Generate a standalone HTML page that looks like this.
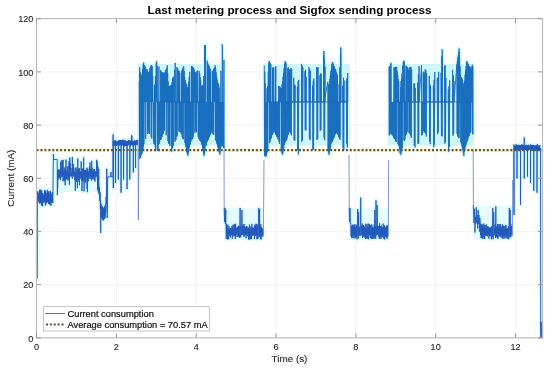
<!DOCTYPE html>
<html><head><meta charset="utf-8"><style>
html,body{margin:0;padding:0;background:#fff;}
body{width:550px;height:368px;overflow:hidden;}
svg{display:block;font-family:"Liberation Sans",sans-serif;will-change:transform;}
</style></head><body>
<svg width="550" height="368" viewBox="0 0 550 368">
<rect x="0" y="0" width="550" height="368" fill="#fff"/>
<g stroke="#f3f3f3" stroke-width="1.2"><line x1="116.34" y1="18.6" x2="116.34" y2="337.9"/><line x1="196.18" y1="18.6" x2="196.18" y2="337.9"/><line x1="276.02" y1="18.6" x2="276.02" y2="337.9"/><line x1="355.86" y1="18.6" x2="355.86" y2="337.9"/><line x1="435.7" y1="18.6" x2="435.7" y2="337.9"/><line x1="515.54" y1="18.6" x2="515.54" y2="337.9"/><line x1="36.5" y1="284.7" x2="542.5" y2="284.7"/><line x1="36.5" y1="231.5" x2="542.5" y2="231.5"/><line x1="36.5" y1="178.3" x2="542.5" y2="178.3"/><line x1="36.5" y1="125.1" x2="542.5" y2="125.1"/><line x1="36.5" y1="71.9" x2="542.5" y2="71.9"/></g>
<line x1="36.5" y1="150.1" x2="542.5" y2="150.1" stroke="#fdfbe4" stroke-width="4.5"/>
<line x1="36.5" y1="150.1" x2="542.5" y2="150.1" stroke="#f9f5d6" stroke-width="2.2"/>
<g fill="#cdf6fc">
<rect x="137.5" y="64" width="87.5" height="81.5"/>
<rect x="263" y="64" width="87" height="81.5"/>
<rect x="388" y="64" width="86" height="81.5"/>
</g>
<g fill="#e6fbfe">
<rect x="224.5" y="208" width="39" height="32"/>
<rect x="349" y="208" width="39.5" height="32"/>
<rect x="473.5" y="206" width="39" height="34"/>
<rect x="513" y="143" width="27.5" height="8"/>
<rect x="37" y="187" width="16" height="19"/>
<rect x="56" y="161" width="43" height="31"/>
</g>
<g fill="none" stroke="#d2f7fd" stroke-width="3.5" stroke-linejoin="round"><path d="M139.2 81.17L139.45 158.94L139.7 67.29L139.95 157.41L140.2 71.97L140.45 158.03L140.7 73.59L140.95 155.83L141.2 78.47L141.45 155.04L141.7 75.74L141.95 153.83L142.2 73.62L142.45 151.21L142.7 68.76L142.95 150.44L143.2 63.88L143.45 146.33L143.7 62.7L143.95 144.32L144.2 102L144.45 65.09L144.7 102L144.95 66.36L145.2 102L145.45 66.95L145.7 139.04L145.95 102L146.2 68.99L146.45 102L146.7 69.06L146.95 102L147.2 69.76L147.45 134.01L147.7 72.13L147.95 131L148.2 72.66L148.45 131.07L148.7 72.02L148.95 133.38L149.2 71.26L149.45 134.02L149.7 102L149.95 67.92L150.2 102L150.45 66.62L150.7 102L150.95 65.72L151.2 137.07L151.45 65.23L151.7 138.62L151.95 102L152.2 65.99L152.45 102L152.7 75.91L152.95 102L153.2 102L153.45 141.5L153.7 102L153.95 144.1L154.2 102L154.45 85.64L154.7 144.33L154.95 84.42L155.2 147L155.45 75.93L155.7 150.46L155.95 102L156.2 63.35L156.45 102L156.7 61.27L156.95 102L157.2 65.77L157.45 150.89L157.7 102L157.95 149.63L158.2 102L158.45 144.89L158.7 102L158.95 66.62L159.2 144.01L159.45 102L159.7 141.68L159.95 102L160.2 139.97L160.45 102L160.7 69.87L160.95 139.97L161.2 71.59L161.45 138.37L161.7 73.38L161.95 136.51L162.2 72.25L162.45 136.34L162.7 72.27L162.95 133.3L163.2 72.72L163.45 133.54L163.7 73.47L163.95 131.03L164.2 73.58L164.45 130.3L164.7 102L164.95 72.05L165.2 102L165.45 70.24L165.7 102L165.95 69.61L166.2 135.33L166.45 102L166.7 68.09L166.95 102L167.2 65.25L167.45 102L167.7 73.19L167.95 141.14L168.2 81.45L168.45 142.8L168.7 86.41L168.95 144.02L169.2 85.72L169.45 144.54L169.7 87.11L169.95 146.11L170.2 102L170.45 85.68L170.7 102L170.95 85.48L171.2 102L171.45 85.03L171.7 151.59L171.95 82.29L172.2 148.25L172.45 78.79L172.7 147.23L172.95 77.12L173.2 145.97L173.45 102L173.7 78.01L173.95 102L174.2 75.78L174.45 102L174.7 70.06L174.95 141.92L175.2 62.94L175.45 140.32L175.7 102L175.95 140.03L176.2 102L176.45 136.94L176.7 102L176.95 67.15L177.2 136.27L177.45 102L177.7 68.16L177.95 102L178.2 70.58L178.45 102L178.7 71.32L178.95 131.51L179.2 70.72L179.45 131.78L179.7 73.22L179.95 130.44L180.2 102L180.45 132L180.7 102L180.95 133.36L181.2 102L181.45 72.44L181.7 134.31L181.95 70.54L182.2 136.86L182.45 68.82L182.7 138.44L182.95 67.68L183.2 139.35L183.45 102L183.7 66.24L183.95 102L184.2 71.23L184.45 102L184.7 76.91L184.95 142.76L185.2 80.13L185.45 144.78L185.7 82.27L185.95 147.06L186.2 83.81L186.45 149.34L186.7 84.74L186.95 152.53L187.2 86.96L187.45 154.95L187.7 87.92L187.95 155.49L188.2 87.44L188.45 152.69L188.7 81.64L188.95 148.5L189.2 76.75L189.45 146.82L189.7 71.84L189.95 144.73L190.2 102L190.45 144.2L190.7 102L190.95 141.71L191.2 102L191.45 65.9L191.7 139.52L191.95 66.61L192.2 139.42L192.45 66.89L192.7 138.81L192.95 66.79L193.2 137L193.45 102L193.7 68.1L193.95 102L194.2 69.54L194.45 102L194.7 72.04L194.95 133.19L195.2 72.14L195.45 130.58L195.7 72.82L195.95 131.01L196.2 73.21L196.45 132.38L196.7 102L196.95 71.11L197.2 102L197.45 70.22L197.7 102L197.95 102L198.2 137.06L198.45 102L198.7 138.74L198.95 102L199.2 70.99L199.45 139.5L199.7 73.54L199.95 140.62L200.2 77.1L200.45 140.88L200.7 80.3L200.95 141.96L201.2 85.89L201.45 144.57L201.7 85.91L201.95 143.86L202.2 84.86L202.45 147.11L202.7 85.61L202.95 149.25L203.2 85.21L203.45 152.69L203.7 76.06L203.95 155.82L204.2 102L204.45 154.27L204.7 102L204.95 149.36L205.2 102L204.5 102L204.5 45L204.8 47L204.9 102L205.45 45.24L205.7 145.88L205.95 102L206.2 145.45L206.45 102L206.7 142.71L206.95 102L207.2 60.58L207.45 141.54L207.7 62.98L207.95 139.82L208.2 64.29L208.45 139.65L208.7 65.32L208.95 137.88L209.2 65.91L209.45 136.86L209.7 67.8L209.95 135.43L210.2 68.89L210.45 134.34L210.7 71.08L210.95 133.33L211.2 102L211.45 130.43L211.7 102L211.95 132.02L212.2 102L212.45 70.72L212.7 133.46L212.95 71.33L213.2 134.32L213.45 68.97L213.7 134.74L213.95 102L214.2 68.12L214.45 102L214.7 67.16L214.95 102L215.2 65.34L215.45 139.86L215.7 68.57L215.95 140.62L216.2 72.29L216.45 142.4L216.7 77.1L216.95 143.87L217.2 79.75L217.45 145.31L217.7 82.45L217.95 147.39L218.2 83.55L218.45 149.63L218.7 84.91L218.95 151.69L219.2 87.56L219.45 153.46L219.7 102L219.95 154.52L220.2 102L220.45 149.18L220.7 102L220.95 70.85L221.2 146.72L221.45 102L221.7 145.75L221.95 102L222.2 146.13L222.45 102L222.2 102L222.2 44.5L222.5 46.5L222.6 102L222.7 102L222.95 146.18L223.2 102L223.45 147.91L223.7 102L223.95 60.03L224.2 148.91"/><path d="M264.3 65.39L264.55 155.43L264.8 71.49L265.05 156.64L265.3 83.42L265.55 154.55L265.8 102L266.05 156.3L266.3 102L266.55 155.45L266.8 102L267.05 88.23L267.3 152.39L267.55 86.3L267.8 150.3L268.05 102L268.3 71.58L268.55 102L268.8 62.64L269.05 102L269.3 61.03L269.55 143.14L269.8 63.01L270.05 142.1L270.3 63.12L270.55 139.29L270.8 64.06L271.05 138.55L271.3 102L271.55 137.95L271.8 102L272.05 135.18L272.3 102L272.55 67.52L272.8 134.42L273.05 68.75L273.3 132.32L273.55 67.34L273.8 131.38L274.05 102L274.3 130.29L274.55 102L274.8 132.5L275.05 102L275.3 67.38L275.55 134.49L275.8 66.22L276.05 134.66L276.3 102L276.55 136.51L276.8 102L277.05 137.09L277.3 102L277.55 102L277.8 138.61L278.05 102L278.3 140.1L278.55 102L278.8 85.89L279.05 142.03L279.3 86.17L279.55 143.92L279.8 102L280.05 86.81L280.3 102L280.55 87.92L280.8 102L281.05 88.08L281.3 149.06L281.55 88.08L281.8 152.38L282.05 83.85L282.3 154.47L282.55 80.99L282.8 153.72L283.05 76.62L283.3 149.36L283.55 72.81L283.8 148.09L284.05 68.22L284.3 144.86L284.55 63.8L284.8 143.15L285.05 61.27L285.3 142.09L285.55 62.13L285.8 141L286.05 63.3L286.3 140.89L286.55 102L286.8 139.36L287.05 102L287.3 137.62L287.55 102L287.8 67.89L288.05 135.14L288.3 67.26L288.55 133.93L288.8 69.39L289.05 132.03L289.3 70.2L289.55 130.63L289.8 69.22L290.05 132.53L290.3 102L290.3 70.34L290.65 133.44L291 67.97L291.35 135.41L291.7 69.16L291.7 102L293.76 102L293.76 77.77L294.11 140.46L294.46 84.49L294.81 140.48L295.16 85.26L295.16 102L297.36 102L297.36 86.63L297.71 150.19L298.06 81.4L298.41 154.31L298.76 79.84L298.76 102L301.47 102L301.47 64.25L301.82 141.74L302.17 65.53L302.52 140.2L302.87 67.5L302.87 102L304.89 102L304.89 71.25L305.24 130.09L305.59 69.69L305.94 130.42L306.29 76.79L306.29 102L309.03 102L309.03 67.12L309.38 138.63L309.73 68.93L310.08 140.17L310.43 71.06L310.43 102L312.51 102L312.51 85.78L312.86 149.89L313.21 81.14L313.56 149.38L313.91 78.44L313.91 102L316.64 102L316.64 67.12L316.99 140.02L317.34 67.86L317.69 139.07L318.04 67.33L318.04 102L319.89 102L319.89 75.4L320.24 130.95L320.59 73.84L320.94 129.67L321.29 73.4L321.29 102L323.65 102L323.65 55.49L324 137.64L324.35 59.14L324.7 140.26L325.05 66.59L325.05 102L323.8 102L323.8 51L324.1 53L324.2 102L327.84 81.75L328.09 150.22L328.34 84.37L328.59 153.04L328.84 86.98L329.09 154.82L329.34 83.64L329.59 151.11L329.84 79.01L330.09 149.64L330.34 75.46L330.59 147.42L330.84 71.3L331.09 143.74L331.34 69.35L331.59 142.87L331.84 64.06L332.09 141.98L332.34 62.06L332.59 141.98L332.84 63.7L333.09 139.85L333.34 63.62L333.59 138.44L333.84 66.17L334.09 137.58L334.34 66.22L334.59 136.78L334.84 68.27L335.09 134.63L335.34 69.39L335.59 133.92L335.84 69.68L336.09 132.79L336.34 72.13L336.59 133L336.84 73.5L337.09 133.73L337.34 75.36L337.59 134.29L337.84 102L338.09 134.7L338.34 102L338.59 137.14L338.84 102L339.09 102L339.09 84.38L339.44 138.45L339.79 67.35L340.14 139.75L340.49 54.17L340.49 102L340.7 102L340.7 47.5L341 49.5L341.1 102L342.71 102L342.71 85.84L343.06 148.05L343.41 77.69L343.76 150.1L344.11 80.44L344.11 102L346.3 102L346.3 80.81L346.65 143.57L347 77.97L347.35 147.39L347.7 73.02L347.7 102"/><path d="M389 67.05L389.25 135.46L389.5 66.14L389.75 134.89L390 65.92L390.25 134.19L390.5 64.25L390.75 132.05L391 62.87L391.25 134.12L391.5 102L391.75 133.93L392 102L392.25 135.18L392.5 102L392.75 102L393 136.28L393.25 102L393.5 137.9L393.75 102L394 67.21L394.25 138.87L394.5 67.99L394.75 138.42L395 67.39L395.25 139.5L395.5 67L395.75 141.07L396 66.65L396.25 142.05L396.5 102L396.75 67.27L397 102L397.25 71.63L397.5 102L397.75 75.19L398 144.14L398.25 79.08L398.5 145.11L398.75 81.65L399 146.39L399.25 102L399.5 148.61L399.75 102L400 153.26L400.25 102L400.5 87.16L400.75 154.85L401 81.16L401.25 152.73L401.5 78.69L401.75 150.05L402 73.62L402.25 148.08L402.5 102L402.75 65.73L403 102L403.25 62.69L403.5 102L403.75 60.79L404 140.6L404.25 61.59L404.5 141.1L404.75 102L405 139.38L405.25 102L405.5 136.12L405.75 102L406 65.61L406.25 134.57L406.5 66.4L406.75 133.47L407 66.62L407.25 131.57L407.5 102L407.75 67.58L408 102L408.25 69.82L408.5 102L408.75 70.22L409 132.9L409.25 68.08L409.5 132.54L409.75 67.65L410 134.33L410.25 102L410.25 67.17L410.6 135.6L410.95 66.81L411.3 137.97L411.65 69.53L411.65 102L413.94 102L413.94 83.58L414.29 146.03L414.64 83.47L414.99 147.31L415.34 87.94L415.34 102L417.68 102L417.68 82.6L418.03 143.86L418.38 74.09L418.73 143.39L419.08 66.2L419.08 102L421.47 65.32L421.72 135.58L421.97 102L422.22 135.04L422.47 102L422.72 133.06L422.97 102L423.22 71.66L423.47 131.07L423.72 73.27L423.97 130.29L424.22 74.59L424.47 132.45L424.72 72.43L424.97 132.2L425.22 102L425.22 69.28L425.57 133.54L425.92 70.43L426.27 136.54L426.62 73.34L426.62 102L429.22 102L429.22 75.81L429.57 141.83L429.92 84.22L430.27 144.15L430.62 85.98L430.62 102L433.37 102L433.37 85.51L433.72 147.19L434.07 79.81L434.42 144.82L434.77 71.98L434.77 102L437.28 102L437.28 78.27L437.63 134.17L437.98 77.28L438.33 132.4L438.68 71.8L438.68 102L441.1 102L441.1 72.81L441.45 135.77L441.8 56.33L442.15 136.39L442.5 58.16L442.5 102L442.1 102L442.1 49.5L442.4 51.5L442.5 102L444.5 102L444.5 66.29L444.85 143.64L445.2 65.04L445.55 142.14L445.9 77.84L445.9 102L448.29 102L448.29 89.44L448.64 151.53L448.99 86.25L449.34 147.01L449.69 80.29L449.69 102L452.62 102L452.62 69.98L452.97 135.79L453.32 75.42L453.67 133.89L454.02 81.09L454.02 102L456.84 64.33L457.09 133.9L457.34 61.27L457.59 136.07L457.84 57.26L458.09 136.81L458.34 54.75L458.59 138.23L458.84 52.01L459.09 138.1L459.34 102L459.59 58.47L459.84 102L460.09 66.28L460.34 102L459 102L459 48.5L459.3 50.5L459.4 102L460.59 74.99L460.84 142.02L461.09 78.17L461.34 143.48L461.59 77.06L461.84 145.69L462.09 78.65L462.34 147.85L462.59 79.74L462.84 150.3L463.09 82.77L463.34 153.11L463.59 85.44L463.84 155.92L464.09 83.79L464.34 151.7L464.59 80.73L464.84 149.28L465.09 74.47L465.34 146.7L465.59 70.46L465.84 145.38L466.09 66.09L466.34 144.38L466.59 61.53L466.84 142.19L467.09 61.53L467.34 141.1L467.59 63.69L467.84 139.89L468.09 63.67L468.34 137.39L468.59 64.16L468.84 136.03L469.09 66.02L469.34 135.88L469.59 66.61L469.84 133.11L470.09 66.73L470.34 133.14L470.59 68.65L470.84 131.76L471.09 102L471.34 69.18L471.59 102L471.84 66.67L472.09 102L472.34 64.7L472.59 134.31L472.84 66.52L473.09 134.42"/><path d="M37.3 278.5L37.4 230L37.5 196"/><path d="M37.1 196L37.8 191.44L38.08 201.41L38.36 193.41L38.64 200.93L38.92 192.72L39.2 202.69L39.48 189.85L39.76 203.54L40.04 189.72L40.32 203.1L40.6 189.92L40.88 201.04L41.16 192.05L41.44 205.46L41.72 190.24L42 201.84L42.28 193.26L42.56 206.19L42.84 192.96L43.12 202.88L43.4 195.36L43.68 200.78L43.96 194.65L44.24 202.24L44.52 190.37L44.8 201.21L45.08 191.35L45.36 205.4L45.64 190.58L45.92 203.99L46.2 193.33L46.48 202.73L46.76 192.79L47.04 200.88L47.32 189.86L47.6 201.74L47.88 193.58L48.16 203.07L48.44 191.38L48.72 204.01L49 192.22L49.28 202.3L49.56 194.27L49.84 204.69L50.12 190.96L50.4 203.95L50.68 192.65L50.96 205.75L51.24 193.88L51.52 202.23L51.8 195.38L52.08 201.21L52.36 192.01L52.8 203L53.4 154L53.7 159.5L57.2 159.5L57.4 195L57.5 172L57.6 170.54L57.65 187.89L57.7 170.31L58.02 179.84L58.44 169.44L58.86 177.54L59.28 169.57L59.7 178.47L60.12 171.67L60.54 179.82L60.59 161.76L60.64 175.18L60.96 171.96L61.38 177.35L61.8 170.01L61.85 159.96L61.9 171.34L62.22 176.26L62.27 162.26L62.32 171.03L62.64 167.49L63.06 181.16L63.11 159.87L63.16 174.4L63.48 171.3L63.9 181.12L64.32 168.49L64.74 181.25L65.16 166.91L65.21 185.32L65.26 171.87L65.58 178.65L66 167.58L66.05 159.64L66.1 172.95L66.42 179.18L66.84 170.14L67.26 179.51L67.68 166.32L68.1 180.57L68.52 170.79L68.94 178.09L68.99 161.26L69.04 170.5L69.36 166.4L69.41 184.62L69.46 172.72L69.78 175.84L69.83 157.63L69.88 170.81L70.2 168.18L70.25 163.06L70.3 174.91L70.62 176.47L71.04 168.08L71.46 176.3L71.88 171.96L72.3 178.64L72.35 157.27L72.4 172.74L72.72 167.59L73.14 176.55L73.19 163.63L73.24 174.23L73.56 166.88L73.98 175.68L74.4 171.87L74.82 180.03L75.24 168.2L75.29 190.72L75.34 174.26L75.66 180.56L76.08 167.34L76.5 181.9L76.92 170.84L77.34 180.31L77.39 188.18L77.44 172.84L77.76 166.17L77.81 158.6L77.86 172.07L78.18 180L78.6 168.68L79.02 181.92L79.44 168.19L79.49 185.27L79.54 171.57L79.86 176.83L80.28 171.4L80.7 178.62L81.12 170.8L81.17 161.45L81.22 177.28L81.54 180.58L81.96 168.87L82.01 190.89L82.06 172.66L82.38 180.71L82.8 168.38L83.22 181.65L83.64 167.02L83.69 157.63L83.74 177.24L84.06 180.74L84.11 191.27L84.16 177.84L84.48 169.94L84.9 179.07L84.95 183.14L85 177.77L85.32 169.9L85.74 181.57L86.16 171.23L86.58 176.87L87 167.76L87.05 188.86L87.1 172.07L87.42 178.22L87.47 192.1L87.52 172.83L87.84 168.75L88.26 181.38L88.68 171.51L89.1 178.96L89.52 166.11L89.94 176.69L89.99 162.49L90.04 171.38L90.36 168.84L90.78 179.12L91.2 169.11L91.62 180.6L91.67 160.7L91.72 171.99L92.04 167.66L92.46 178.8L92.88 170.56L93.3 178.38L93.72 169.03L94.14 180L94.56 169.2L94.98 181.62L95.4 171.26L95.82 177.19L96.24 171.66L96.66 176.39L96.71 159.82L96.76 170.58L97.08 167.44L97.13 161.52L97.18 176.27L97.5 181.33L97.55 190.16L97.6 175.28L97.92 166.86L98.34 181.79L98.39 192.53L98.44 173.19L98.76 168.92L98.9 183.7L99.2 194.38L99.5 187.29L99.8 200.92L100.1 192.42L100.4 209.61L100.7 200.76L100.7 233L100.75 212L101 215.83L101.3 204.36L101.6 217.24L101.9 206.22L102.2 219.75L102.5 206.49L102.8 218.83L103.1 207.49L103.4 220.41L103.7 208.61L104 217.63L104.3 208.27L104.6 219.09L104.9 205.85L105.2 217.5L105.5 203.49L105.8 212.65L106.1 196.93L106.4 203.73L106.8 168.8L107.2 218L107.7 176.8L110.5 176.8L111 172L111.3 177L113 176.8L113.1 134.5L113.2 146L113.3 141.81L113.3 188L113.35 145L113.55 146.14L113.55 188L113.6 145L113.8 140.37L114.05 144.8L114.3 141.82L114.55 145.64L114.8 141.34L115.05 144.68L115.3 139.93L115.55 145.88L115.55 183L115.6 145L115.8 140.74L116.05 144.64L116.3 141.86L116.55 145.77L116.8 141.56L117.05 144.67L117.3 141.68L117.55 144.63L117.8 141.7L118.05 145.41L118.3 140.55L118.3 179.5L118.35 145L118.55 145.61L118.8 141.84L119.05 145.04L119.3 140.08L119.55 145.55L119.8 140.32L120.05 144.72L120.3 140.16L120.55 144.6L120.8 140.24L121.05 145.12L121.05 192.7L121.1 145L121.3 140.47L121.55 146.02L121.8 140.44L122.05 145.5L122.3 140.19L122.55 145.19L122.8 139.84L123.05 145L123.3 139.83L123.55 145.97L123.55 179.5L123.6 145L123.8 141.01L124.05 144.88L124.3 140.84L124.55 146.37L124.8 140.03L125.05 146.14L125.3 140.75L125.55 145.49L125.8 141.64L126.05 145.29L126.3 140.91L126.55 145.88L126.8 141.96L127.05 145.19L127.05 189L127.1 145L127.3 141.63L127.55 145.91L127.8 141.2L128.05 145.31L128.3 140.56L128.55 144.61L128.8 140.09L129.05 144.64L129.3 141.43L129.55 145.01L129.8 140.16L129.8 179.5L129.85 145L130.05 144.67L130.3 141.65L130.55 146.24L130.8 141.28L131.05 145.06L131.3 140.33L131.55 145.09L131.55 135.5L131.6 142L131.8 140.81L131.8 135.5L131.85 142L132.05 144.82L132.3 140.78L132.55 145.03L132.8 141.92L133.05 146.45L133.3 141L133.3 172.4L133.35 145L133.55 144.99L133.8 141.92L134.05 145.12L134.3 140.58L134.55 144.5L134.8 140.64L135.05 145.45L135.3 140.91L135.55 144.9L135.55 168L135.6 145L135.8 140.91L136.05 144.51L136.3 140.38L136.55 144.68L136.8 140.68L137.05 144.58L137.3 139.85L137.55 145.11L137.8 140.31L138 141"/><path d="M224.2 208L224.6 222L225 207.9L225.4 224L225.8 210L226 226.37L226.3 239.09L226.6 224.1L226.9 236.7L227.2 227.93L227.5 239.32L227.8 224.59L228.1 234.7L228.4 228.69L228.7 239.37L229 226.16L229.3 234.29L229.6 228.59L229.9 236.13L230.2 228.47L230.5 237.41L230.8 228.04L231.1 234.88L231.4 227.82L231.7 235.22L232 225.72L232.3 238.65L232.6 228.06L232.9 235.01L233.2 224.7L233.5 236.2L233.8 226.35L234.1 236.11L234.4 224.18L234.7 235.36L235 227.49L235.3 238.94L235.6 223.73L235.9 237.09L236.2 227.67L236.5 234.21L236.8 228.11L237.1 234.65L237.4 226.8L237.7 237.03L238 226.95L238.3 235.68L238.6 225.81L238.9 237.2L239.2 225.84L239.5 237.62L239.8 225.96L240.1 208L240.4 223.63L240.7 237.4L241 226.19L241.3 235.29L241.6 227.7L241.9 210L242.2 226.02L242.5 234.99L242.8 226.1L243.1 234.59L243.4 224.21L243.7 236.37L244 224L244.3 236.43L244.6 226.31L244.9 234.22L245.2 227L245.5 234.45L245.8 227.53L246.1 238.28L246.4 226.31L246.7 234.3L247 226.27L247.3 236.08L247.6 228.73L247.9 234.75L248.2 228.21L248.5 239.48L248.8 227.53L249.1 238.48L249.4 224.57L249.7 239.4L250 226.21L250.3 239.26L250.6 228.54L250.9 234.91L251.2 227.84L251.5 239.12L251.8 223.86L252.1 235.93L252.4 227.66L252.7 234.87L253 228.43L253.3 235.51L253.6 227.99L253.9 234.79L254.2 226.26L254.5 239.06L254.8 224.65L255.1 235.45L255.4 226.28L255.7 235.75L256 223.7L256.3 235L256.6 224.39L256.9 239.15L257.2 227.24L257.5 238.92L257.8 224.43L258.1 238.32L258.4 224.13L258.7 208L259 227L259.3 235.98L259.6 209L259.9 237.05L260.2 226.69L260.5 238.85L260.8 224.08L261.1 239.46L261.4 226.96L261.7 236.17L262 227.89L262.3 235.46L262.6 228.95L262.9 237.18"/><path d="M349.2 208L349.6 222L350 208L350.4 224L350.8 223.57L351.1 236.3L351.4 225.81L351.7 237.84L352 225.44L352.3 235.46L352.6 224.73L352.9 238.08L353.2 228.67L353.5 236.9L353.8 224.7L354.1 238.41L354.4 225.66L354.7 235.17L355 224.21L355.3 238.27L355.6 227.95L355.9 237.49L356.2 226.08L356.5 237.09L356.8 224.74L357.1 239.3L357.4 225.44L357.7 209.3L358 228L358.3 238.49L358.6 212L358.9 235.62L359.2 226.52L359.5 234.69L359.8 228.09L360.1 235.95L360.4 228.18L360.7 197.7L361 225.57L361.3 235.39L361.6 225.84L361.9 235.02L362.2 223.51L362.5 237.97L362.8 225.05L363.1 235.35L363.4 225.16L363.7 236.64L364 225.86L364.3 237.51L364.6 227.13L364.9 235.99L365.2 228.61L365.5 238.7L365.8 223.81L366.1 238.55L366.4 228.48L366.7 238.31L367 224.27L367.3 238.57L367.6 226.98L367.9 234.08L368.2 223.56L368.5 239.23L368.8 227.11L369.1 235.38L369.4 224.06L369.7 234.79L370 224.79L370.3 238.27L370.6 225.41L370.9 234.84L371.2 228.47L371.5 238.35L371.8 224.42L372.1 238.9L372.4 226.85L372.7 238.3L373 227.18L373.3 238.92L373.6 227.83L373.9 238.61L374.2 224.59L374.5 237.81L374.8 210L375.1 238.08L375.4 225.91L375.7 238.85L376 200.4L376.3 235.45L376.6 224.79L376.9 234.77L377.2 205L377.5 234.32L377.8 226.07L378.1 234.79L378.4 226.2L378.7 236.74L379 226.47L379.3 238.75L379.6 223.54L379.9 238.62L380.2 226.07L380.5 237.09L380.8 227.16L381.1 238.62L381.4 225.56L381.7 236.3L382 228.78L382.3 234.41L382.6 227L382.9 237.5L383.2 223.66L383.5 237.35L383.8 227.25L384.1 239.12L384.4 225.32L384.7 239.4L385 226.31L385.3 236.67L385.6 228.44L385.9 234.19L386.2 227.45L386.5 237.44L386.8 225.36L387.1 238.74L387.4 225.51L387.7 236.61"/><path d="M473.4 205L473.6 214.57L474.05 223.07L474.5 208.7L474.95 232.56L475.4 216.67L475.85 223.95L476.3 207.19L476.75 222.31L477.2 215.13L477.65 228.43L478.1 210.11L478.55 224.09L479 215.19L479.45 231.62L479.9 218.17L480.2 226.71L480.5 235.11L480.8 223.86L481.1 238.03L481.4 225.74L481.7 237.97L482 223.8L482.3 238.46L482.6 225.34L482.9 238.63L483.2 228.25L483.5 236.71L483.8 223.58L484.1 239.01L484.4 226.12L484.7 238.8L485 224.96L485.3 235.02L485.6 228.07L485.9 236.02L486.2 224.4L486.5 236.04L486.8 226.77L487.1 234.03L487.4 226.36L487.7 236.45L488 226.34L488.3 234.66L488.6 227.43L488.9 238.49L489.2 228.26L489.5 235.77L489.8 227.41L490.1 236.1L490.4 227.63L490.7 234.34L491 228.3L491.3 239.25L491.6 226.22L491.9 236.82L492.2 226.42L492.5 236.96L492.8 208L493.1 239.32L493.4 224.73L493.7 212L494 224.06L494.3 235.38L494.6 227.99L494.9 234.17L495.2 224.03L495.5 237.84L495.8 206.5L496.1 234.1L496.4 226.8L496.7 237.17L497 226.38L497.3 237.86L497.6 224.07L497.9 238.78L498.2 227.44L498.5 234.25L498.8 224.18L499.1 236.71L499.4 226.25L499.7 235.54L500 224.17L500.3 236.23L500.6 224.25L500.9 237.25L501.2 228.24L501.5 234.81L501.8 226.65L502.1 238.11L502.4 224.4L502.7 238.54L503 228.66L503.3 236.14L503.6 225.81L503.9 238.62L504.2 226.39L504.5 236.18L504.8 228.68L505.1 238.27L505.4 225.36L505.7 235.32L506 225.34L506.3 236.4L506.6 228.9L506.9 238.42L507.2 228.52L507.5 238.48L507.8 228.16L508.1 234.29L508.4 226.35L508.7 239.27L509 228.64L509.3 208L509.6 225.82L509.9 237.48L510.2 210L510.5 236.92L510.8 223.88L511.1 236.38L511.4 226.28L511.7 234.11"/><path d="M540.5 148L540.7 322"/><path d="M540.4 321L540.8 337.6L541.2 322L541.6 337.6L542 323L542.4 337.6"/><path d="M513.8 147L514 144.61L514 215L514.05 148L514.25 150.92L514.5 146.01L514.75 150.84L515 145.69L515.25 150.52L515.5 146.25L515.75 150.71L516 144.38L516.25 150.1L516.5 144.88L516.75 150.2L517 144.9L517 178.5L517.05 148L517.25 149.86L517.5 146.33L517.75 150.05L518 144.85L518.25 149.8L518.5 145.25L518.75 150.88L519 144.93L519.25 149.26L519.5 145.72L519.75 148.8L520 145.61L520.25 150.89L520.5 145.43L520.5 205L520.55 148L520.75 149.17L521 145.33L521.25 149.83L521.5 144.63L521.75 148.81L522 144.59L522.25 149.23L522.5 145.19L522.75 149.22L523 144.84L523.25 148.72L523.5 145.5L523.75 150.6L524 145.64L524.25 149.93L524.25 178.5L524.3 148L524.25 137.6L524.3 145L524.5 145.73L524.75 149L525 145.86L525.25 149.65L525.5 145.51L525.75 150.03L526 145.33L526.25 149.28L526.5 144.83L526.75 149.05L527 145.43L527.25 149.46L527.5 145.59L527.5 176.6L527.55 148L527.75 148.53L528 145.08L528.25 150.65L528.5 144.82L528.75 149.89L529 145.38L529.25 149.21L529.5 146.47L529.75 149.24L530 146L530.25 148.9L530.5 144.45L530.5 183L530.55 148L530.75 150.68L531 145.27L531.25 148.66L531.5 145.15L531.75 149.6L532 145.92L532.25 148.77L532.5 144.8L532.75 150.9L533 145.93L533.25 148.89L533.5 145.04L533.75 149.38L533.75 190.8L533.8 148L534 145.79L534.25 150.04L534.5 146.17L534.75 150.55L535 145.44L535.25 150.35L535.5 145.94L535.75 150.4L536 145.35L536.25 150.46L536.5 145.86L536.75 150.79L537 144.58L537 192.7L537.05 148L537.25 150.68L537.5 144.31L537.75 150.41L538 145.59L538.25 149.74L538.5 146.42L538.75 149.93L539 145.22L539.25 150.46L539.5 146.22L539.75 150.02L540 145.14"/></g>
<g fill="none" stroke="#1a6fc0" stroke-width="0.9" stroke-linejoin="round"><path d="M139.2 81.17L139.45 158.94L139.7 67.29L139.95 157.41L140.2 71.97L140.45 158.03L140.7 73.59L140.95 155.83L141.2 78.47L141.45 155.04L141.7 75.74L141.95 153.83L142.2 73.62L142.45 151.21L142.7 68.76L142.95 150.44L143.2 63.88L143.45 146.33L143.7 62.7L143.95 144.32L144.2 102L144.45 65.09L144.7 102L144.95 66.36L145.2 102L145.45 66.95L145.7 139.04L145.95 102L146.2 68.99L146.45 102L146.7 69.06L146.95 102L147.2 69.76L147.45 134.01L147.7 72.13L147.95 131L148.2 72.66L148.45 131.07L148.7 72.02L148.95 133.38L149.2 71.26L149.45 134.02L149.7 102L149.95 67.92L150.2 102L150.45 66.62L150.7 102L150.95 65.72L151.2 137.07L151.45 65.23L151.7 138.62L151.95 102L152.2 65.99L152.45 102L152.7 75.91L152.95 102L153.2 102L153.45 141.5L153.7 102L153.95 144.1L154.2 102L154.45 85.64L154.7 144.33L154.95 84.42L155.2 147L155.45 75.93L155.7 150.46L155.95 102L156.2 63.35L156.45 102L156.7 61.27L156.95 102L157.2 65.77L157.45 150.89L157.7 102L157.95 149.63L158.2 102L158.45 144.89L158.7 102L158.95 66.62L159.2 144.01L159.45 102L159.7 141.68L159.95 102L160.2 139.97L160.45 102L160.7 69.87L160.95 139.97L161.2 71.59L161.45 138.37L161.7 73.38L161.95 136.51L162.2 72.25L162.45 136.34L162.7 72.27L162.95 133.3L163.2 72.72L163.45 133.54L163.7 73.47L163.95 131.03L164.2 73.58L164.45 130.3L164.7 102L164.95 72.05L165.2 102L165.45 70.24L165.7 102L165.95 69.61L166.2 135.33L166.45 102L166.7 68.09L166.95 102L167.2 65.25L167.45 102L167.7 73.19L167.95 141.14L168.2 81.45L168.45 142.8L168.7 86.41L168.95 144.02L169.2 85.72L169.45 144.54L169.7 87.11L169.95 146.11L170.2 102L170.45 85.68L170.7 102L170.95 85.48L171.2 102L171.45 85.03L171.7 151.59L171.95 82.29L172.2 148.25L172.45 78.79L172.7 147.23L172.95 77.12L173.2 145.97L173.45 102L173.7 78.01L173.95 102L174.2 75.78L174.45 102L174.7 70.06L174.95 141.92L175.2 62.94L175.45 140.32L175.7 102L175.95 140.03L176.2 102L176.45 136.94L176.7 102L176.95 67.15L177.2 136.27L177.45 102L177.7 68.16L177.95 102L178.2 70.58L178.45 102L178.7 71.32L178.95 131.51L179.2 70.72L179.45 131.78L179.7 73.22L179.95 130.44L180.2 102L180.45 132L180.7 102L180.95 133.36L181.2 102L181.45 72.44L181.7 134.31L181.95 70.54L182.2 136.86L182.45 68.82L182.7 138.44L182.95 67.68L183.2 139.35L183.45 102L183.7 66.24L183.95 102L184.2 71.23L184.45 102L184.7 76.91L184.95 142.76L185.2 80.13L185.45 144.78L185.7 82.27L185.95 147.06L186.2 83.81L186.45 149.34L186.7 84.74L186.95 152.53L187.2 86.96L187.45 154.95L187.7 87.92L187.95 155.49L188.2 87.44L188.45 152.69L188.7 81.64L188.95 148.5L189.2 76.75L189.45 146.82L189.7 71.84L189.95 144.73L190.2 102L190.45 144.2L190.7 102L190.95 141.71L191.2 102L191.45 65.9L191.7 139.52L191.95 66.61L192.2 139.42L192.45 66.89L192.7 138.81L192.95 66.79L193.2 137L193.45 102L193.7 68.1L193.95 102L194.2 69.54L194.45 102L194.7 72.04L194.95 133.19L195.2 72.14L195.45 130.58L195.7 72.82L195.95 131.01L196.2 73.21L196.45 132.38L196.7 102L196.95 71.11L197.2 102L197.45 70.22L197.7 102L197.95 102L198.2 137.06L198.45 102L198.7 138.74L198.95 102L199.2 70.99L199.45 139.5L199.7 73.54L199.95 140.62L200.2 77.1L200.45 140.88L200.7 80.3L200.95 141.96L201.2 85.89L201.45 144.57L201.7 85.91L201.95 143.86L202.2 84.86L202.45 147.11L202.7 85.61L202.95 149.25L203.2 85.21L203.45 152.69L203.7 76.06L203.95 155.82L204.2 102L204.45 154.27L204.7 102L204.95 149.36L205.2 102L204.5 102L204.5 45L204.8 47L204.9 102L205.45 45.24L205.7 145.88L205.95 102L206.2 145.45L206.45 102L206.7 142.71L206.95 102L207.2 60.58L207.45 141.54L207.7 62.98L207.95 139.82L208.2 64.29L208.45 139.65L208.7 65.32L208.95 137.88L209.2 65.91L209.45 136.86L209.7 67.8L209.95 135.43L210.2 68.89L210.45 134.34L210.7 71.08L210.95 133.33L211.2 102L211.45 130.43L211.7 102L211.95 132.02L212.2 102L212.45 70.72L212.7 133.46L212.95 71.33L213.2 134.32L213.45 68.97L213.7 134.74L213.95 102L214.2 68.12L214.45 102L214.7 67.16L214.95 102L215.2 65.34L215.45 139.86L215.7 68.57L215.95 140.62L216.2 72.29L216.45 142.4L216.7 77.1L216.95 143.87L217.2 79.75L217.45 145.31L217.7 82.45L217.95 147.39L218.2 83.55L218.45 149.63L218.7 84.91L218.95 151.69L219.2 87.56L219.45 153.46L219.7 102L219.95 154.52L220.2 102L220.45 149.18L220.7 102L220.95 70.85L221.2 146.72L221.45 102L221.7 145.75L221.95 102L222.2 146.13L222.45 102L222.2 102L222.2 44.5L222.5 46.5L222.6 102L222.7 102L222.95 146.18L223.2 102L223.45 147.91L223.7 102L223.95 60.03L224.2 148.91"/><path d="M264.3 65.39L264.55 155.43L264.8 71.49L265.05 156.64L265.3 83.42L265.55 154.55L265.8 102L266.05 156.3L266.3 102L266.55 155.45L266.8 102L267.05 88.23L267.3 152.39L267.55 86.3L267.8 150.3L268.05 102L268.3 71.58L268.55 102L268.8 62.64L269.05 102L269.3 61.03L269.55 143.14L269.8 63.01L270.05 142.1L270.3 63.12L270.55 139.29L270.8 64.06L271.05 138.55L271.3 102L271.55 137.95L271.8 102L272.05 135.18L272.3 102L272.55 67.52L272.8 134.42L273.05 68.75L273.3 132.32L273.55 67.34L273.8 131.38L274.05 102L274.3 130.29L274.55 102L274.8 132.5L275.05 102L275.3 67.38L275.55 134.49L275.8 66.22L276.05 134.66L276.3 102L276.55 136.51L276.8 102L277.05 137.09L277.3 102L277.55 102L277.8 138.61L278.05 102L278.3 140.1L278.55 102L278.8 85.89L279.05 142.03L279.3 86.17L279.55 143.92L279.8 102L280.05 86.81L280.3 102L280.55 87.92L280.8 102L281.05 88.08L281.3 149.06L281.55 88.08L281.8 152.38L282.05 83.85L282.3 154.47L282.55 80.99L282.8 153.72L283.05 76.62L283.3 149.36L283.55 72.81L283.8 148.09L284.05 68.22L284.3 144.86L284.55 63.8L284.8 143.15L285.05 61.27L285.3 142.09L285.55 62.13L285.8 141L286.05 63.3L286.3 140.89L286.55 102L286.8 139.36L287.05 102L287.3 137.62L287.55 102L287.8 67.89L288.05 135.14L288.3 67.26L288.55 133.93L288.8 69.39L289.05 132.03L289.3 70.2L289.55 130.63L289.8 69.22L290.05 132.53L290.3 102L290.3 70.34L290.65 133.44L291 67.97L291.35 135.41L291.7 69.16L291.7 102L293.76 102L293.76 77.77L294.11 140.46L294.46 84.49L294.81 140.48L295.16 85.26L295.16 102L297.36 102L297.36 86.63L297.71 150.19L298.06 81.4L298.41 154.31L298.76 79.84L298.76 102L301.47 102L301.47 64.25L301.82 141.74L302.17 65.53L302.52 140.2L302.87 67.5L302.87 102L304.89 102L304.89 71.25L305.24 130.09L305.59 69.69L305.94 130.42L306.29 76.79L306.29 102L309.03 102L309.03 67.12L309.38 138.63L309.73 68.93L310.08 140.17L310.43 71.06L310.43 102L312.51 102L312.51 85.78L312.86 149.89L313.21 81.14L313.56 149.38L313.91 78.44L313.91 102L316.64 102L316.64 67.12L316.99 140.02L317.34 67.86L317.69 139.07L318.04 67.33L318.04 102L319.89 102L319.89 75.4L320.24 130.95L320.59 73.84L320.94 129.67L321.29 73.4L321.29 102L323.65 102L323.65 55.49L324 137.64L324.35 59.14L324.7 140.26L325.05 66.59L325.05 102L323.8 102L323.8 51L324.1 53L324.2 102L327.84 81.75L328.09 150.22L328.34 84.37L328.59 153.04L328.84 86.98L329.09 154.82L329.34 83.64L329.59 151.11L329.84 79.01L330.09 149.64L330.34 75.46L330.59 147.42L330.84 71.3L331.09 143.74L331.34 69.35L331.59 142.87L331.84 64.06L332.09 141.98L332.34 62.06L332.59 141.98L332.84 63.7L333.09 139.85L333.34 63.62L333.59 138.44L333.84 66.17L334.09 137.58L334.34 66.22L334.59 136.78L334.84 68.27L335.09 134.63L335.34 69.39L335.59 133.92L335.84 69.68L336.09 132.79L336.34 72.13L336.59 133L336.84 73.5L337.09 133.73L337.34 75.36L337.59 134.29L337.84 102L338.09 134.7L338.34 102L338.59 137.14L338.84 102L339.09 102L339.09 84.38L339.44 138.45L339.79 67.35L340.14 139.75L340.49 54.17L340.49 102L340.7 102L340.7 47.5L341 49.5L341.1 102L342.71 102L342.71 85.84L343.06 148.05L343.41 77.69L343.76 150.1L344.11 80.44L344.11 102L346.3 102L346.3 80.81L346.65 143.57L347 77.97L347.35 147.39L347.7 73.02L347.7 102"/><path d="M389 67.05L389.25 135.46L389.5 66.14L389.75 134.89L390 65.92L390.25 134.19L390.5 64.25L390.75 132.05L391 62.87L391.25 134.12L391.5 102L391.75 133.93L392 102L392.25 135.18L392.5 102L392.75 102L393 136.28L393.25 102L393.5 137.9L393.75 102L394 67.21L394.25 138.87L394.5 67.99L394.75 138.42L395 67.39L395.25 139.5L395.5 67L395.75 141.07L396 66.65L396.25 142.05L396.5 102L396.75 67.27L397 102L397.25 71.63L397.5 102L397.75 75.19L398 144.14L398.25 79.08L398.5 145.11L398.75 81.65L399 146.39L399.25 102L399.5 148.61L399.75 102L400 153.26L400.25 102L400.5 87.16L400.75 154.85L401 81.16L401.25 152.73L401.5 78.69L401.75 150.05L402 73.62L402.25 148.08L402.5 102L402.75 65.73L403 102L403.25 62.69L403.5 102L403.75 60.79L404 140.6L404.25 61.59L404.5 141.1L404.75 102L405 139.38L405.25 102L405.5 136.12L405.75 102L406 65.61L406.25 134.57L406.5 66.4L406.75 133.47L407 66.62L407.25 131.57L407.5 102L407.75 67.58L408 102L408.25 69.82L408.5 102L408.75 70.22L409 132.9L409.25 68.08L409.5 132.54L409.75 67.65L410 134.33L410.25 102L410.25 67.17L410.6 135.6L410.95 66.81L411.3 137.97L411.65 69.53L411.65 102L413.94 102L413.94 83.58L414.29 146.03L414.64 83.47L414.99 147.31L415.34 87.94L415.34 102L417.68 102L417.68 82.6L418.03 143.86L418.38 74.09L418.73 143.39L419.08 66.2L419.08 102L421.47 65.32L421.72 135.58L421.97 102L422.22 135.04L422.47 102L422.72 133.06L422.97 102L423.22 71.66L423.47 131.07L423.72 73.27L423.97 130.29L424.22 74.59L424.47 132.45L424.72 72.43L424.97 132.2L425.22 102L425.22 69.28L425.57 133.54L425.92 70.43L426.27 136.54L426.62 73.34L426.62 102L429.22 102L429.22 75.81L429.57 141.83L429.92 84.22L430.27 144.15L430.62 85.98L430.62 102L433.37 102L433.37 85.51L433.72 147.19L434.07 79.81L434.42 144.82L434.77 71.98L434.77 102L437.28 102L437.28 78.27L437.63 134.17L437.98 77.28L438.33 132.4L438.68 71.8L438.68 102L441.1 102L441.1 72.81L441.45 135.77L441.8 56.33L442.15 136.39L442.5 58.16L442.5 102L442.1 102L442.1 49.5L442.4 51.5L442.5 102L444.5 102L444.5 66.29L444.85 143.64L445.2 65.04L445.55 142.14L445.9 77.84L445.9 102L448.29 102L448.29 89.44L448.64 151.53L448.99 86.25L449.34 147.01L449.69 80.29L449.69 102L452.62 102L452.62 69.98L452.97 135.79L453.32 75.42L453.67 133.89L454.02 81.09L454.02 102L456.84 64.33L457.09 133.9L457.34 61.27L457.59 136.07L457.84 57.26L458.09 136.81L458.34 54.75L458.59 138.23L458.84 52.01L459.09 138.1L459.34 102L459.59 58.47L459.84 102L460.09 66.28L460.34 102L459 102L459 48.5L459.3 50.5L459.4 102L460.59 74.99L460.84 142.02L461.09 78.17L461.34 143.48L461.59 77.06L461.84 145.69L462.09 78.65L462.34 147.85L462.59 79.74L462.84 150.3L463.09 82.77L463.34 153.11L463.59 85.44L463.84 155.92L464.09 83.79L464.34 151.7L464.59 80.73L464.84 149.28L465.09 74.47L465.34 146.7L465.59 70.46L465.84 145.38L466.09 66.09L466.34 144.38L466.59 61.53L466.84 142.19L467.09 61.53L467.34 141.1L467.59 63.69L467.84 139.89L468.09 63.67L468.34 137.39L468.59 64.16L468.84 136.03L469.09 66.02L469.34 135.88L469.59 66.61L469.84 133.11L470.09 66.73L470.34 133.14L470.59 68.65L470.84 131.76L471.09 102L471.34 69.18L471.59 102L471.84 66.67L472.09 102L472.34 64.7L472.59 134.31L472.84 66.52L473.09 134.42"/></g>
<g fill="none" stroke="#2159bb" stroke-width="0.9" stroke-linejoin="round"><path d="M37.3 278.5L37.4 230L37.5 196"/><path d="M37.1 196L37.8 191.44L38.08 201.41L38.36 193.41L38.64 200.93L38.92 192.72L39.2 202.69L39.48 189.85L39.76 203.54L40.04 189.72L40.32 203.1L40.6 189.92L40.88 201.04L41.16 192.05L41.44 205.46L41.72 190.24L42 201.84L42.28 193.26L42.56 206.19L42.84 192.96L43.12 202.88L43.4 195.36L43.68 200.78L43.96 194.65L44.24 202.24L44.52 190.37L44.8 201.21L45.08 191.35L45.36 205.4L45.64 190.58L45.92 203.99L46.2 193.33L46.48 202.73L46.76 192.79L47.04 200.88L47.32 189.86L47.6 201.74L47.88 193.58L48.16 203.07L48.44 191.38L48.72 204.01L49 192.22L49.28 202.3L49.56 194.27L49.84 204.69L50.12 190.96L50.4 203.95L50.68 192.65L50.96 205.75L51.24 193.88L51.52 202.23L51.8 195.38L52.08 201.21L52.36 192.01L52.8 203L53.4 154L53.7 159.5L57.2 159.5L57.4 195L57.5 172L57.6 170.54L57.65 187.89L57.7 170.31L58.02 179.84L58.44 169.44L58.86 177.54L59.28 169.57L59.7 178.47L60.12 171.67L60.54 179.82L60.59 161.76L60.64 175.18L60.96 171.96L61.38 177.35L61.8 170.01L61.85 159.96L61.9 171.34L62.22 176.26L62.27 162.26L62.32 171.03L62.64 167.49L63.06 181.16L63.11 159.87L63.16 174.4L63.48 171.3L63.9 181.12L64.32 168.49L64.74 181.25L65.16 166.91L65.21 185.32L65.26 171.87L65.58 178.65L66 167.58L66.05 159.64L66.1 172.95L66.42 179.18L66.84 170.14L67.26 179.51L67.68 166.32L68.1 180.57L68.52 170.79L68.94 178.09L68.99 161.26L69.04 170.5L69.36 166.4L69.41 184.62L69.46 172.72L69.78 175.84L69.83 157.63L69.88 170.81L70.2 168.18L70.25 163.06L70.3 174.91L70.62 176.47L71.04 168.08L71.46 176.3L71.88 171.96L72.3 178.64L72.35 157.27L72.4 172.74L72.72 167.59L73.14 176.55L73.19 163.63L73.24 174.23L73.56 166.88L73.98 175.68L74.4 171.87L74.82 180.03L75.24 168.2L75.29 190.72L75.34 174.26L75.66 180.56L76.08 167.34L76.5 181.9L76.92 170.84L77.34 180.31L77.39 188.18L77.44 172.84L77.76 166.17L77.81 158.6L77.86 172.07L78.18 180L78.6 168.68L79.02 181.92L79.44 168.19L79.49 185.27L79.54 171.57L79.86 176.83L80.28 171.4L80.7 178.62L81.12 170.8L81.17 161.45L81.22 177.28L81.54 180.58L81.96 168.87L82.01 190.89L82.06 172.66L82.38 180.71L82.8 168.38L83.22 181.65L83.64 167.02L83.69 157.63L83.74 177.24L84.06 180.74L84.11 191.27L84.16 177.84L84.48 169.94L84.9 179.07L84.95 183.14L85 177.77L85.32 169.9L85.74 181.57L86.16 171.23L86.58 176.87L87 167.76L87.05 188.86L87.1 172.07L87.42 178.22L87.47 192.1L87.52 172.83L87.84 168.75L88.26 181.38L88.68 171.51L89.1 178.96L89.52 166.11L89.94 176.69L89.99 162.49L90.04 171.38L90.36 168.84L90.78 179.12L91.2 169.11L91.62 180.6L91.67 160.7L91.72 171.99L92.04 167.66L92.46 178.8L92.88 170.56L93.3 178.38L93.72 169.03L94.14 180L94.56 169.2L94.98 181.62L95.4 171.26L95.82 177.19L96.24 171.66L96.66 176.39L96.71 159.82L96.76 170.58L97.08 167.44L97.13 161.52L97.18 176.27L97.5 181.33L97.55 190.16L97.6 175.28L97.92 166.86L98.34 181.79L98.39 192.53L98.44 173.19L98.76 168.92L98.9 183.7L99.2 194.38L99.5 187.29L99.8 200.92L100.1 192.42L100.4 209.61L100.7 200.76L100.7 233L100.75 212L101 215.83L101.3 204.36L101.6 217.24L101.9 206.22L102.2 219.75L102.5 206.49L102.8 218.83L103.1 207.49L103.4 220.41L103.7 208.61L104 217.63L104.3 208.27L104.6 219.09L104.9 205.85L105.2 217.5L105.5 203.49L105.8 212.65L106.1 196.93L106.4 203.73L106.8 168.8L107.2 218L107.7 176.8L110.5 176.8L111 172L111.3 177L113 176.8L113.1 134.5L113.2 146L113.3 141.81L113.3 188L113.35 145L113.55 146.14L113.55 188L113.6 145L113.8 140.37L114.05 144.8L114.3 141.82L114.55 145.64L114.8 141.34L115.05 144.68L115.3 139.93L115.55 145.88L115.55 183L115.6 145L115.8 140.74L116.05 144.64L116.3 141.86L116.55 145.77L116.8 141.56L117.05 144.67L117.3 141.68L117.55 144.63L117.8 141.7L118.05 145.41L118.3 140.55L118.3 179.5L118.35 145L118.55 145.61L118.8 141.84L119.05 145.04L119.3 140.08L119.55 145.55L119.8 140.32L120.05 144.72L120.3 140.16L120.55 144.6L120.8 140.24L121.05 145.12L121.05 192.7L121.1 145L121.3 140.47L121.55 146.02L121.8 140.44L122.05 145.5L122.3 140.19L122.55 145.19L122.8 139.84L123.05 145L123.3 139.83L123.55 145.97L123.55 179.5L123.6 145L123.8 141.01L124.05 144.88L124.3 140.84L124.55 146.37L124.8 140.03L125.05 146.14L125.3 140.75L125.55 145.49L125.8 141.64L126.05 145.29L126.3 140.91L126.55 145.88L126.8 141.96L127.05 145.19L127.05 189L127.1 145L127.3 141.63L127.55 145.91L127.8 141.2L128.05 145.31L128.3 140.56L128.55 144.61L128.8 140.09L129.05 144.64L129.3 141.43L129.55 145.01L129.8 140.16L129.8 179.5L129.85 145L130.05 144.67L130.3 141.65L130.55 146.24L130.8 141.28L131.05 145.06L131.3 140.33L131.55 145.09L131.55 135.5L131.6 142L131.8 140.81L131.8 135.5L131.85 142L132.05 144.82L132.3 140.78L132.55 145.03L132.8 141.92L133.05 146.45L133.3 141L133.3 172.4L133.35 145L133.55 144.99L133.8 141.92L134.05 145.12L134.3 140.58L134.55 144.5L134.8 140.64L135.05 145.45L135.3 140.91L135.55 144.9L135.55 168L135.6 145L135.8 140.91L136.05 144.51L136.3 140.38L136.55 144.68L136.8 140.68L137.05 144.58L137.3 139.85L137.55 145.11L137.8 140.31L138 141"/><path d="M224.2 208L224.6 222L225 207.9L225.4 224L225.8 210L226 226.37L226.3 239.09L226.6 224.1L226.9 236.7L227.2 227.93L227.5 239.32L227.8 224.59L228.1 234.7L228.4 228.69L228.7 239.37L229 226.16L229.3 234.29L229.6 228.59L229.9 236.13L230.2 228.47L230.5 237.41L230.8 228.04L231.1 234.88L231.4 227.82L231.7 235.22L232 225.72L232.3 238.65L232.6 228.06L232.9 235.01L233.2 224.7L233.5 236.2L233.8 226.35L234.1 236.11L234.4 224.18L234.7 235.36L235 227.49L235.3 238.94L235.6 223.73L235.9 237.09L236.2 227.67L236.5 234.21L236.8 228.11L237.1 234.65L237.4 226.8L237.7 237.03L238 226.95L238.3 235.68L238.6 225.81L238.9 237.2L239.2 225.84L239.5 237.62L239.8 225.96L240.1 208L240.4 223.63L240.7 237.4L241 226.19L241.3 235.29L241.6 227.7L241.9 210L242.2 226.02L242.5 234.99L242.8 226.1L243.1 234.59L243.4 224.21L243.7 236.37L244 224L244.3 236.43L244.6 226.31L244.9 234.22L245.2 227L245.5 234.45L245.8 227.53L246.1 238.28L246.4 226.31L246.7 234.3L247 226.27L247.3 236.08L247.6 228.73L247.9 234.75L248.2 228.21L248.5 239.48L248.8 227.53L249.1 238.48L249.4 224.57L249.7 239.4L250 226.21L250.3 239.26L250.6 228.54L250.9 234.91L251.2 227.84L251.5 239.12L251.8 223.86L252.1 235.93L252.4 227.66L252.7 234.87L253 228.43L253.3 235.51L253.6 227.99L253.9 234.79L254.2 226.26L254.5 239.06L254.8 224.65L255.1 235.45L255.4 226.28L255.7 235.75L256 223.7L256.3 235L256.6 224.39L256.9 239.15L257.2 227.24L257.5 238.92L257.8 224.43L258.1 238.32L258.4 224.13L258.7 208L259 227L259.3 235.98L259.6 209L259.9 237.05L260.2 226.69L260.5 238.85L260.8 224.08L261.1 239.46L261.4 226.96L261.7 236.17L262 227.89L262.3 235.46L262.6 228.95L262.9 237.18"/><path d="M349.2 208L349.6 222L350 208L350.4 224L350.8 223.57L351.1 236.3L351.4 225.81L351.7 237.84L352 225.44L352.3 235.46L352.6 224.73L352.9 238.08L353.2 228.67L353.5 236.9L353.8 224.7L354.1 238.41L354.4 225.66L354.7 235.17L355 224.21L355.3 238.27L355.6 227.95L355.9 237.49L356.2 226.08L356.5 237.09L356.8 224.74L357.1 239.3L357.4 225.44L357.7 209.3L358 228L358.3 238.49L358.6 212L358.9 235.62L359.2 226.52L359.5 234.69L359.8 228.09L360.1 235.95L360.4 228.18L360.7 197.7L361 225.57L361.3 235.39L361.6 225.84L361.9 235.02L362.2 223.51L362.5 237.97L362.8 225.05L363.1 235.35L363.4 225.16L363.7 236.64L364 225.86L364.3 237.51L364.6 227.13L364.9 235.99L365.2 228.61L365.5 238.7L365.8 223.81L366.1 238.55L366.4 228.48L366.7 238.31L367 224.27L367.3 238.57L367.6 226.98L367.9 234.08L368.2 223.56L368.5 239.23L368.8 227.11L369.1 235.38L369.4 224.06L369.7 234.79L370 224.79L370.3 238.27L370.6 225.41L370.9 234.84L371.2 228.47L371.5 238.35L371.8 224.42L372.1 238.9L372.4 226.85L372.7 238.3L373 227.18L373.3 238.92L373.6 227.83L373.9 238.61L374.2 224.59L374.5 237.81L374.8 210L375.1 238.08L375.4 225.91L375.7 238.85L376 200.4L376.3 235.45L376.6 224.79L376.9 234.77L377.2 205L377.5 234.32L377.8 226.07L378.1 234.79L378.4 226.2L378.7 236.74L379 226.47L379.3 238.75L379.6 223.54L379.9 238.62L380.2 226.07L380.5 237.09L380.8 227.16L381.1 238.62L381.4 225.56L381.7 236.3L382 228.78L382.3 234.41L382.6 227L382.9 237.5L383.2 223.66L383.5 237.35L383.8 227.25L384.1 239.12L384.4 225.32L384.7 239.4L385 226.31L385.3 236.67L385.6 228.44L385.9 234.19L386.2 227.45L386.5 237.44L386.8 225.36L387.1 238.74L387.4 225.51L387.7 236.61"/><path d="M473.4 205L473.6 214.57L474.05 223.07L474.5 208.7L474.95 232.56L475.4 216.67L475.85 223.95L476.3 207.19L476.75 222.31L477.2 215.13L477.65 228.43L478.1 210.11L478.55 224.09L479 215.19L479.45 231.62L479.9 218.17L480.2 226.71L480.5 235.11L480.8 223.86L481.1 238.03L481.4 225.74L481.7 237.97L482 223.8L482.3 238.46L482.6 225.34L482.9 238.63L483.2 228.25L483.5 236.71L483.8 223.58L484.1 239.01L484.4 226.12L484.7 238.8L485 224.96L485.3 235.02L485.6 228.07L485.9 236.02L486.2 224.4L486.5 236.04L486.8 226.77L487.1 234.03L487.4 226.36L487.7 236.45L488 226.34L488.3 234.66L488.6 227.43L488.9 238.49L489.2 228.26L489.5 235.77L489.8 227.41L490.1 236.1L490.4 227.63L490.7 234.34L491 228.3L491.3 239.25L491.6 226.22L491.9 236.82L492.2 226.42L492.5 236.96L492.8 208L493.1 239.32L493.4 224.73L493.7 212L494 224.06L494.3 235.38L494.6 227.99L494.9 234.17L495.2 224.03L495.5 237.84L495.8 206.5L496.1 234.1L496.4 226.8L496.7 237.17L497 226.38L497.3 237.86L497.6 224.07L497.9 238.78L498.2 227.44L498.5 234.25L498.8 224.18L499.1 236.71L499.4 226.25L499.7 235.54L500 224.17L500.3 236.23L500.6 224.25L500.9 237.25L501.2 228.24L501.5 234.81L501.8 226.65L502.1 238.11L502.4 224.4L502.7 238.54L503 228.66L503.3 236.14L503.6 225.81L503.9 238.62L504.2 226.39L504.5 236.18L504.8 228.68L505.1 238.27L505.4 225.36L505.7 235.32L506 225.34L506.3 236.4L506.6 228.9L506.9 238.42L507.2 228.52L507.5 238.48L507.8 228.16L508.1 234.29L508.4 226.35L508.7 239.27L509 228.64L509.3 208L509.6 225.82L509.9 237.48L510.2 210L510.5 236.92L510.8 223.88L511.1 236.38L511.4 226.28L511.7 234.11"/><path d="M540.5 148L540.7 322"/><path d="M540.4 321L540.8 337.6L541.2 322L541.6 337.6L542 323L542.4 337.6"/><path d="M513.8 147L514 144.61L514 215L514.05 148L514.25 150.92L514.5 146.01L514.75 150.84L515 145.69L515.25 150.52L515.5 146.25L515.75 150.71L516 144.38L516.25 150.1L516.5 144.88L516.75 150.2L517 144.9L517 178.5L517.05 148L517.25 149.86L517.5 146.33L517.75 150.05L518 144.85L518.25 149.8L518.5 145.25L518.75 150.88L519 144.93L519.25 149.26L519.5 145.72L519.75 148.8L520 145.61L520.25 150.89L520.5 145.43L520.5 205L520.55 148L520.75 149.17L521 145.33L521.25 149.83L521.5 144.63L521.75 148.81L522 144.59L522.25 149.23L522.5 145.19L522.75 149.22L523 144.84L523.25 148.72L523.5 145.5L523.75 150.6L524 145.64L524.25 149.93L524.25 178.5L524.3 148L524.25 137.6L524.3 145L524.5 145.73L524.75 149L525 145.86L525.25 149.65L525.5 145.51L525.75 150.03L526 145.33L526.25 149.28L526.5 144.83L526.75 149.05L527 145.43L527.25 149.46L527.5 145.59L527.5 176.6L527.55 148L527.75 148.53L528 145.08L528.25 150.65L528.5 144.82L528.75 149.89L529 145.38L529.25 149.21L529.5 146.47L529.75 149.24L530 146L530.25 148.9L530.5 144.45L530.5 183L530.55 148L530.75 150.68L531 145.27L531.25 148.66L531.5 145.15L531.75 149.6L532 145.92L532.25 148.77L532.5 144.8L532.75 150.9L533 145.93L533.25 148.89L533.5 145.04L533.75 149.38L533.75 190.8L533.8 148L534 145.79L534.25 150.04L534.5 146.17L534.75 150.55L535 145.44L535.25 150.35L535.5 145.94L535.75 150.4L536 145.35L536.25 150.46L536.5 145.86L536.75 150.79L537 144.58L537 192.7L537.05 148L537.25 150.68L537.5 144.31L537.75 150.41L538 145.59L538.25 149.74L538.5 146.42L538.75 149.93L539 145.22L539.25 150.46L539.5 146.22L539.75 150.02L540 145.14"/></g>
<g fill="none" stroke="#5f7dcc" stroke-width="0.8"><path d="M138 141L138.4 220L138.9 150"/><path d="M224 150L224.2 208"/><path d="M263.4 236L264 160"/><path d="M349 155L349.2 208"/><path d="M388.3 236L388.6 160"/><path d="M473.2 150L473.4 205"/><path d="M512.4 236L512.9 180L513.6 203.5L513.7 150"/></g>
<g stroke="#2458b4" stroke-width="0.9" opacity="0.8"><line x1="157" y1="101.9" x2="204" y2="101.9"/><line x1="268" y1="101.9" x2="348" y2="101.9"/><line x1="395" y1="101.9" x2="472" y2="101.9"/></g>
<line x1="36.5" y1="150.1" x2="542.5" y2="150.1" stroke="#5a5836" stroke-width="2.2" stroke-dasharray="2 1.915" stroke-dashoffset="3.815"/>
<rect x="36.5" y="18.6" width="506" height="319.3" fill="none" stroke="#bcbcbc" stroke-width="1.2"/>
<g stroke="#9a9a9a" stroke-width="1"><line x1="36.5" y1="337.9" x2="36.5" y2="333.4"/><line x1="36.5" y1="18.6" x2="36.5" y2="23.1"/><line x1="116.34" y1="337.9" x2="116.34" y2="333.4"/><line x1="116.34" y1="18.6" x2="116.34" y2="23.1"/><line x1="196.18" y1="337.9" x2="196.18" y2="333.4"/><line x1="196.18" y1="18.6" x2="196.18" y2="23.1"/><line x1="276.02" y1="337.9" x2="276.02" y2="333.4"/><line x1="276.02" y1="18.6" x2="276.02" y2="23.1"/><line x1="355.86" y1="337.9" x2="355.86" y2="333.4"/><line x1="355.86" y1="18.6" x2="355.86" y2="23.1"/><line x1="435.7" y1="337.9" x2="435.7" y2="333.4"/><line x1="435.7" y1="18.6" x2="435.7" y2="23.1"/><line x1="515.54" y1="337.9" x2="515.54" y2="333.4"/><line x1="515.54" y1="18.6" x2="515.54" y2="23.1"/><line x1="36.5" y1="337.9" x2="41" y2="337.9"/><line x1="542.5" y1="337.9" x2="538" y2="337.9"/><line x1="36.5" y1="284.7" x2="41" y2="284.7"/><line x1="542.5" y1="284.7" x2="538" y2="284.7"/><line x1="36.5" y1="231.5" x2="41" y2="231.5"/><line x1="542.5" y1="231.5" x2="538" y2="231.5"/><line x1="36.5" y1="178.3" x2="41" y2="178.3"/><line x1="542.5" y1="178.3" x2="538" y2="178.3"/><line x1="36.5" y1="125.1" x2="41" y2="125.1"/><line x1="542.5" y1="125.1" x2="538" y2="125.1"/><line x1="36.5" y1="71.9" x2="41" y2="71.9"/><line x1="542.5" y1="71.9" x2="538" y2="71.9"/><line x1="36.5" y1="18.7" x2="41" y2="18.7"/><line x1="542.5" y1="18.7" x2="538" y2="18.7"/></g>
<g fill="#262626" stroke="#262626" stroke-width="0.12" font-size="9.15px"><text x="36.5" y="349.6" text-anchor="middle">0</text><text x="116.34" y="349.6" text-anchor="middle">2</text><text x="196.18" y="349.6" text-anchor="middle">4</text><text x="276.02" y="349.6" text-anchor="middle">6</text><text x="355.86" y="349.6" text-anchor="middle">8</text><text x="435.7" y="349.6" text-anchor="middle">10</text><text x="515.54" y="349.6" text-anchor="middle">12</text><text x="33.4" y="341.5" text-anchor="end">0</text><text x="33.4" y="288.3" text-anchor="end">20</text><text x="33.4" y="235.1" text-anchor="end">40</text><text x="33.4" y="181.9" text-anchor="end">60</text><text x="33.4" y="128.7" text-anchor="end">80</text><text x="33.4" y="75.5" text-anchor="end">100</text><text x="33.4" y="22.3" text-anchor="end">120</text></g>
<text x="289.5" y="361.8" text-anchor="middle" fill="#262626" stroke="#262626" stroke-width="0.12" font-size="9.9px">Time (s)</text>
<text transform="translate(13.7,178.2) rotate(-90)" text-anchor="middle" fill="#262626" stroke="#262626" stroke-width="0.12" font-size="9.9px">Current (mA)</text>
<text x="289.5" y="14.1" text-anchor="middle" fill="#000" font-size="11.7px" font-weight="bold">Last metering process and Sigfox sending process</text>
<rect x="43.6" y="306.6" width="165.8" height="24.4" fill="#fff" stroke="#c4c4c4" stroke-width="1"/>
<line x1="45.3" y1="313.5" x2="64.9" y2="313.5" stroke="#4a609e" stroke-width="0.9"/>
<line x1="45.9" y1="324.5" x2="64.5" y2="324.5" stroke="#4d5530" stroke-width="2" stroke-dasharray="2 1.9"/>
<text x="67.5" y="316.7" fill="#111" stroke="#111" stroke-width="0.2" font-size="9.3px">Current consumption</text>
<text x="67.5" y="327.8" fill="#111" stroke="#111" stroke-width="0.2" font-size="9.3px">Average consumption = 70.57 mA</text>
</svg>
</body></html>
